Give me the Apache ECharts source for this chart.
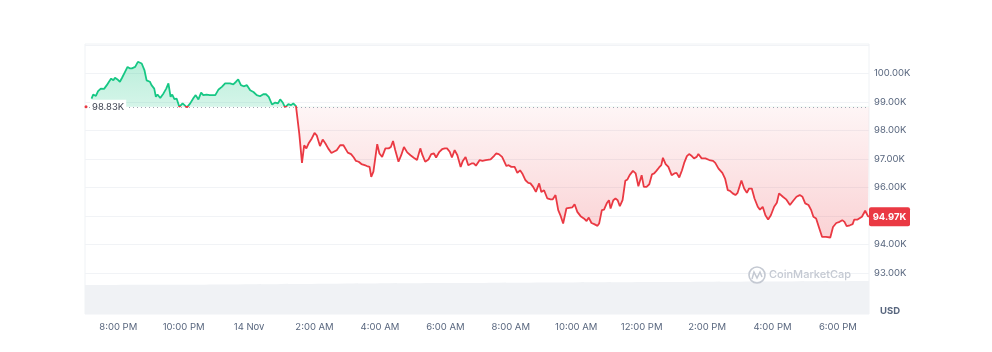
<!DOCTYPE html>
<html><head><meta charset="utf-8">
<script src="https://cdn.jsdelivr.net/npm/echarts@6/dist/echarts.min.js"></script>
<style>html,body{margin:0;padding:0;background:#fff}#c{width:992px;height:352px}</style>
</head><body><div id="c"></div>
<script>
// minutes after 13 Nov 20:00, and BTC price in thousands USD
const minutes = [
 -49,-46,-41,-37,-32,-26,-21,-17,-13,-9,
 -6,-2,3,7,12,17,21,25,31,36,
 39,43,48,52,58,61,66,69,72,77,
 83,88,92,96,99,103,107,112,118,126,
 132,138,142,147,152,156,162,168,178,184,
 190,196,199,205,211,216,220,225,230,236,
 242,248,254,260,266,271,276,282,288,293,
 297,302,306,312,317,321,326,328,332,337,
 341,345,349,355,360,364,370,375,380,385,
 391,397,401,407,413,421,427,432,436,441,
 446,452,456,461,464,468,475,479,484,490,
 496,500,504,508,514,519,524,530,536,542,
 548,554,558,563,569,574,579,583,589,594,
 599,603,608,612,617,622,628,632,637,642,
 648,652,656,663,668,674,683,689,693,698,
 704,707,712,716,721,727,732,737,741,747,
 752,756,761,766,772,776,781,787,793,797,
 802,807,811,816,822,827,833,837,842,848,
 854,859,863,868,873,879,882,887,891,896,
 900,903,908,912,916,920,925,930,934,938,
 944,949,954,960,964,969,974,979,983,987,
 992,996,999,1004,1009,1015,1020,1024,1029,1034,
 1038,1043,1047,1052,1056,1061,1064,1070,1077,1084,
 1091,1095,1101,1108,1113,1118,1122,1127,1132,1136,
 1143,1148,1153,1157,1162,1167,1173,1177,1182,1187,
 1192,1197,1203,1208,1212,1219,1225,1232,1238,1244,
 1250,1255,1260,1266,1271,1275,1280,1285,1291,1298,
 1306,1311,1317,1323,1328,1332,1336,1342,1347,1350,
 1356,1364,1370,1375,1377
];
const prices = [
 99.12,99.26,99.21,99.38,99.47,99.46,99.59,99.71,99.82,99.76,
 99.85,99.80,99.71,99.85,100.04,100.23,100.18,100.18,100.23,100.41,
 100.44,100.35,100.12,99.76,99.71,99.59,99.47,99.18,99.26,99.14,
 99.30,99.47,99.65,99.18,99.26,99.10,99.12,98.83,98.95,98.81,
 98.95,99.14,99.24,99.09,99.33,99.24,99.26,99.24,99.24,99.44,
 99.53,99.65,99.59,99.65,99.62,99.71,99.79,99.59,99.55,99.59,
 99.41,99.35,99.24,99.20,99.27,99.27,99.18,98.91,98.98,98.95,
 99.09,98.97,98.81,98.92,98.89,98.95,98.85,98.81,97.89,96.86,
 97.48,97.37,97.54,97.72,97.91,97.83,97.45,97.68,97.54,97.37,
 97.21,97.27,97.31,97.48,97.48,97.22,97.17,97.05,96.93,96.90,
 96.82,96.78,96.75,96.72,96.37,96.55,97.52,97.19,97.07,97.37,
 97.37,97.42,97.63,97.31,96.90,97.13,97.42,97.23,97.13,97.04,
 96.96,97.37,97.13,96.90,96.98,97.17,97.19,97.05,97.25,97.34,
 97.37,97.37,97.25,97.05,97.31,97.13,96.72,96.93,97.07,96.78,
 96.84,96.84,96.76,96.96,96.93,96.96,96.98,97.10,97.19,97.17,
 97.07,97.02,96.75,96.78,96.72,96.72,96.51,96.60,96.49,96.25,
 96.16,96.14,96.02,95.84,96.14,95.84,95.90,95.61,95.58,95.58,
 95.73,95.20,95.02,94.73,95.26,95.28,95.30,95.41,95.14,94.99,
 94.91,94.82,94.94,94.75,94.71,94.65,94.73,95.20,95.22,95.44,
 95.55,95.26,95.55,95.61,95.55,95.34,95.55,96.23,96.28,96.43,
 96.58,96.49,96.04,96.43,96.02,96.02,96.11,96.46,96.49,96.58,
 96.70,96.78,97.04,96.82,96.72,96.43,96.49,96.51,96.35,96.60,
 96.86,97.10,97.17,97.10,97.02,97.07,97.17,97.02,97.02,96.96,
 96.93,96.86,96.66,96.51,96.31,95.90,95.88,95.79,95.73,95.81,
 96.24,95.96,95.81,95.96,95.96,95.61,95.32,95.22,95.32,95.02,
 94.87,95.02,95.32,95.46,95.79,95.67,95.58,95.38,95.53,95.67,
 95.73,95.67,95.44,95.38,95.20,94.97,94.91,94.61,94.26,94.26,
 94.24,94.61,94.75,94.79,94.85,94.79,94.64,94.67,94.71,94.87,
 94.87,94.97,95.18,94.99,94.97
];
const baseline = 98.83;
const lastPrice = 94.97;
const axisStartMinute = -61;
const yMin = 92, yMax = 101;
// volume band (relative units)
const volMinutes = [-61, 60, 200, 400, 600, 800, 1000, 1200, 1377];
const volumes = [29.0, 29.2, 29.6, 30.3, 30.9, 31.5, 32.0, 32.5, 33.0];
const volAxisMax = 270;

const base = new Date(2024, 10, 13, 20, 0, 0).getTime();
const toT = m => base + m * 60000;
const xMin = toT(axisStartMinute), xMax = toT(minutes[minutes.length - 1]);
const GREEN = '#16c784', RED = '#ea3943';
const FONT = 'Inter, sans-serif';
const MONTHS = ['Jan','Feb','Mar','Apr','May','Jun','Jul','Aug','Sep','Oct','Nov','Dec'];

function fmtTime(v) {
  const d = new Date(v);
  const h = d.getHours(), mi = d.getMinutes();
  if (mi !== 0 || d.getSeconds() !== 0 || h % 2 !== 0) return '';
  if (h === 0) return d.getDate() + ' ' + MONTHS[d.getMonth()];
  const h12 = h % 12 === 0 ? 12 : h % 12;
  return h12 + ':00 ' + (h < 12 ? 'AM' : 'PM');
}

const maxV = Math.max(...prices), minV = Math.min(...prices);
const f = (maxV - baseline) / (maxV - minV);
const lineGrad = new echarts.graphic.LinearGradient(0, 0, 0, 1, [
  {offset: 0, color: GREEN}, {offset: f, color: GREEN},
  {offset: f, color: RED}, {offset: 1, color: RED}]);
const areaGrad = new echarts.graphic.LinearGradient(0, 0, 0, 1, [
  {offset: 0, color: 'rgba(22,199,132,0.42)'}, {offset: f, color: 'rgba(22,199,132,0.26)'},
  {offset: f, color: 'rgba(234,57,67,0.07)'}, {offset: 1, color: 'rgba(234,57,67,0.32)'}]);

const chart = echarts.init(document.getElementById('c'), null, {renderer: 'canvas'});
chart.setOption({
  animation: false,
  backgroundColor: '#fff',
  grid: [
    {left: 85, right: 123, top: 45, bottom: 50.7},
    {left: 85, right: 123, top: 44, bottom: 38, show: true, borderColor: '#eff2f5', borderWidth: 1, backgroundColor: 'transparent'}
  ],
  xAxis: [
    {type: 'time', gridIndex: 0, min: xMin, max: xMax, show: false},
    {type: 'time', gridIndex: 1, min: xMin, max: xMax,
      minInterval: 2 * 3600000, maxInterval: 2 * 3600000,
      axisLine: {show: false}, axisTick: {show: false}, splitLine: {show: false},
      axisLabel: {formatter: fmtTime, color: '#58667e', fontSize: 9.5, fontFamily: FONT, margin: 8, hideOverlap: false}}
  ],
  yAxis: [
    {type: 'value', gridIndex: 0, position: 'right', min: yMin, max: yMax, interval: 1,
      axisLine: {show: false}, axisTick: {show: false},
      splitLine: {lineStyle: {color: '#f1f3f6', width: 1}},
      axisLabel: {margin: 5, color: '#58667e', fontSize: 9.5, fontFamily: FONT,
        formatter: v => (v >= 93 && v <= 100 && Math.abs(v - Math.round(lastPrice)) > 0.01) ? v.toFixed(2) + 'K' : ''}},
    {type: 'value', gridIndex: 1, min: 0, max: volAxisMax, show: false}
  ],
  series: [
    {type: 'line', xAxisIndex: 1, yAxisIndex: 1, symbol: 'none', silent: true, smooth: true,
      data: volMinutes.map((m, i) => [toT(m), volumes[i]]),
      lineStyle: {width: 0}, areaStyle: {color: '#f0f2f5', opacity: 1}, z: 1},
    {type: 'line', xAxisIndex: 0, yAxisIndex: 0, symbol: 'none', showSymbol: false,
      data: minutes.map((m, i) => [toT(m), prices[i]]),
      lineStyle: {width: 1.8, color: lineGrad},
      areaStyle: {origin: baseline, color: areaGrad},
      markLine: {silent: true, symbol: 'none', data: [{yAxis: baseline}],
        lineStyle: {type: [1, 3], color: '#a1a7b3', width: 1}, label: {show: false}},
      z: 3}
  ]
});

const yb = chart.convertToPixel({yAxisIndex: 0}, baseline);
const yl = chart.convertToPixel({yAxisIndex: 0}, lastPrice);
chart.setOption({
  graphic: [
    {type: 'circle', shape: {cx: 86, cy: yb, r: 1.5}, style: {fill: RED}, z: 20},
    {type: 'text', x: 90, y: yb, z: 20,
      style: {text: baseline.toFixed(2) + 'K', fill: '#3d4250', font: '9.5px ' + FONT, verticalAlign: 'middle',
        backgroundColor: '#fff', padding: [2, 2]}},
    {type: 'rect', shape: {x: 869, y: yl - 9.5, width: 41, height: 19, r: 2}, style: {fill: RED}, z: 20},
    {type: 'text', x: 889.5, y: yl, z: 21,
      style: {text: lastPrice.toFixed(2) + 'K', fill: '#fff', font: 'bold 9.5px ' + FONT, align: 'center', verticalAlign: 'middle'}},
    {type: 'text', x: 880, y: 311, z: 20,
      style: {text: 'USD', fill: '#58667e', font: 'bold 9.5px ' + FONT, verticalAlign: 'middle'}},
    {type: 'circle', shape: {cx: 757, cy: 275, r: 8}, style: {fill: 'none', stroke: '#c4c9d2', lineWidth: 1.6}, z: 20},
    {type: 'polyline', shape: {points: [[752, 279], [754, 272], [757, 278], [760, 272], [762, 277]]},
      style: {fill: 'none', stroke: '#c4c9d2', lineWidth: 1.5}, z: 20},
    {type: 'text', x: 769, y: 275, z: 20,
      style: {text: 'CoinMarketCap', fill: '#c4c9d2', font: '500 11px ' + FONT, verticalAlign: 'middle'}}
  ]
});
</script>
</body></html>
